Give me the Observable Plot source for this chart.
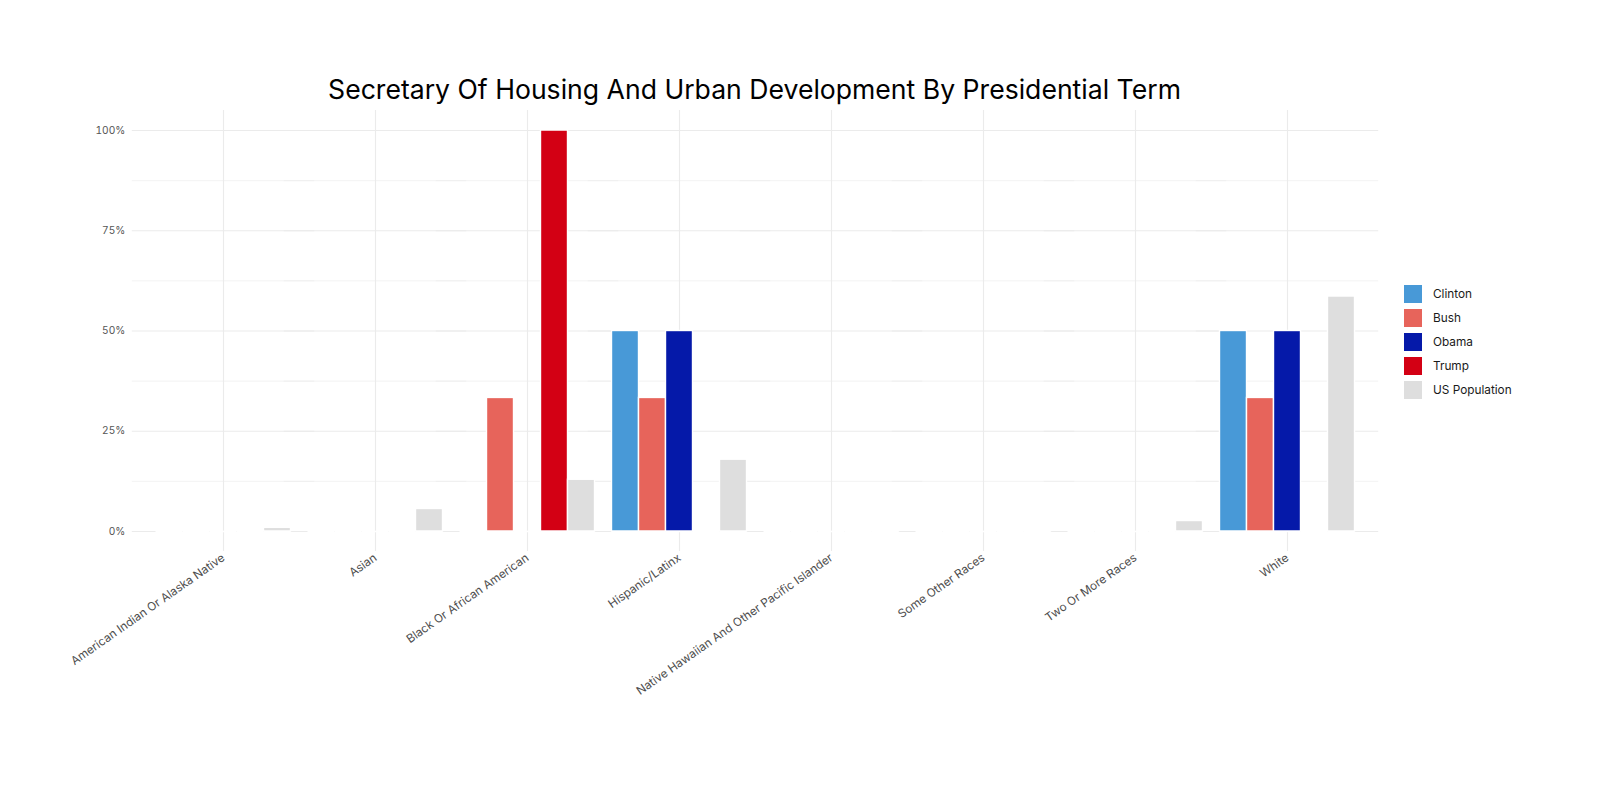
<!DOCTYPE html>
<html>
<head>
<meta charset="utf-8">
<script src="https://cdn.jsdelivr.net/npm/d3@7"></script>
<script src="https://cdn.jsdelivr.net/npm/@observablehq/plot@0.6"></script>
<style>
  html, body { margin: 0; background: #ffffff; }
  body { font-family: Inter, "Open Sans", sans-serif; }
  #wrap { position: relative; width: 1600px; height: 800px; overflow: hidden; }
  #chart { position: absolute; left: 0; top: 0; }
  #title { position: absolute; left: 131px; width: 1247px; top: 72px; text-align: center;
           font-size: 26.6px; line-height: 34px; color: #000000; white-space: nowrap; }
  #legend { position: absolute; left: 1403px; top: 282px; }
  .item { display: flex; align-items: center; height: 24px; }
  .sw { width: 20px; height: 20px; box-sizing: border-box; border: 0.5px solid #ffffff; margin-right: 10px; }
  .lab { font-size: 11.8px; color: #1a1a1a; }
</style>
</head>
<body>
<div id="wrap">
  <div id="chart"></div>
  <div id="title">Secretary Of Housing And Urban Development By Presidential Term</div>
  <div id="legend"></div>
</div>
<script>
// Race / ethnicity categories along the x axis
const categories = [
  "American Indian Or Alaska Native",
  "Asian",
  "Black Or African American",
  "Hispanic/Latinx",
  "Native Hawaiian And Other Pacific Islander",
  "Some Other Races",
  "Two Or More Races",
  "White"
];

// Groups drawn side by side within each category
const series = ["Clinton", "Bush", "Obama", "Trump", "US Population"];
const seriesColors = ["#4899d7", "#e7645b", "#0519a9", "#d30014", "#dedede"];

// Share of HUD secretaries (percent) per term, and the US population share
const clinton      = [0, 0, 0,    50,   0,   0,   0,   50];
const bush         = [0, 0, 33.3, 33.3, 0,   0,   0,   33.3];
const obama        = [0, 0, 0,    50,   0,   0,   0,   50];
const trump        = [0, 0, 100,  0,    0,   0,   0,   0];
const usPopulation = [0.9, 5.6, 12.9, 17.9, 0.2, 0.3, 2.6, 58.6];

// Axis ticks (percent)
const yTicks = [0, 25, 50, 75, 100];
const yMinorTicks = [12.5, 37.5, 62.5, 87.5];

const valuesBySeries = [clinton, bush, obama, trump, usPopulation];
const rows = [];
categories.forEach((category, i) => {
  series.forEach((s, j) => {
    rows.push({category, series: s, value: valuesBySeries[j][i]});
  });
});

const gridColor = "#ebebeb";
const font = "Inter, 'Open Sans', sans-serif";
// outer padding of the category bands, in pixels (0.1 of a 152px band)
const outerGap = 15.2;
// gridlines reach past each facet band so they run across the whole panel
const gridOverhang = -outerGap;

const chart = Plot.plot({
  width: 1600,
  height: 720,
  marginTop: 110,
  marginBottom: 169,
  marginLeft: 131.5,
  marginRight: 222,
  style: {fontFamily: font, background: "transparent"},
  fx: {domain: categories, paddingInner: 0, paddingOuter: 0.1, label: null},
  x: {domain: series, paddingInner: 0, paddingOuter: 0.25 / 0.9, axis: null},
  y: {domain: [-5, 105], label: null},
  color: {domain: series, range: seriesColors},
  marks: [
    Plot.gridY(yMinorTicks, {stroke: gridColor, strokeOpacity: 1, strokeWidth: 0.6,
                             insetLeft: gridOverhang, insetRight: gridOverhang}),
    Plot.gridY(yTicks, {stroke: gridColor, strokeOpacity: 1, strokeWidth: 1.1,
                        insetLeft: gridOverhang, insetRight: gridOverhang}),
    Plot.gridFx({stroke: gridColor, strokeOpacity: 1, strokeWidth: 1.1}),
    // zero-height bars still carry a white outline along the baseline
    Plot.tickY(rows, {fx: "category", x: "series", y: 0, stroke: "#ffffff", strokeWidth: 1.6}),
    Plot.barY(rows, {fx: "category", x: "series", y: "value", fill: "series",
                     stroke: "#ffffff", strokeWidth: 1.4}),
    // the y axis sits on the first category band, so push labels out to the panel edge
    Plot.axisY(yTicks, {tickFormat: d => d + "%", tickSize: 0, tickPadding: 7 + outerGap,
                        fontSize: 10.2, color: "#555555", label: null}),
    Plot.axisFx({anchor: "bottom", tickRotate: -35, tickSize: 0, tickPadding: 5, fontSize: 11.7,
                 color: "#4d4d4d", label: null})
  ]
});
document.getElementById("chart").appendChild(chart);

// Legend
const legend = document.getElementById("legend");
series.forEach((s, j) => {
  const item = document.createElement("div");
  item.className = "item";
  const sw = document.createElement("div");
  sw.className = "sw";
  sw.style.background = seriesColors[j];
  const lab = document.createElement("span");
  lab.className = "lab";
  lab.textContent = s;
  item.appendChild(sw);
  item.appendChild(lab);
  legend.appendChild(item);
});
</script>
</body>
</html>
